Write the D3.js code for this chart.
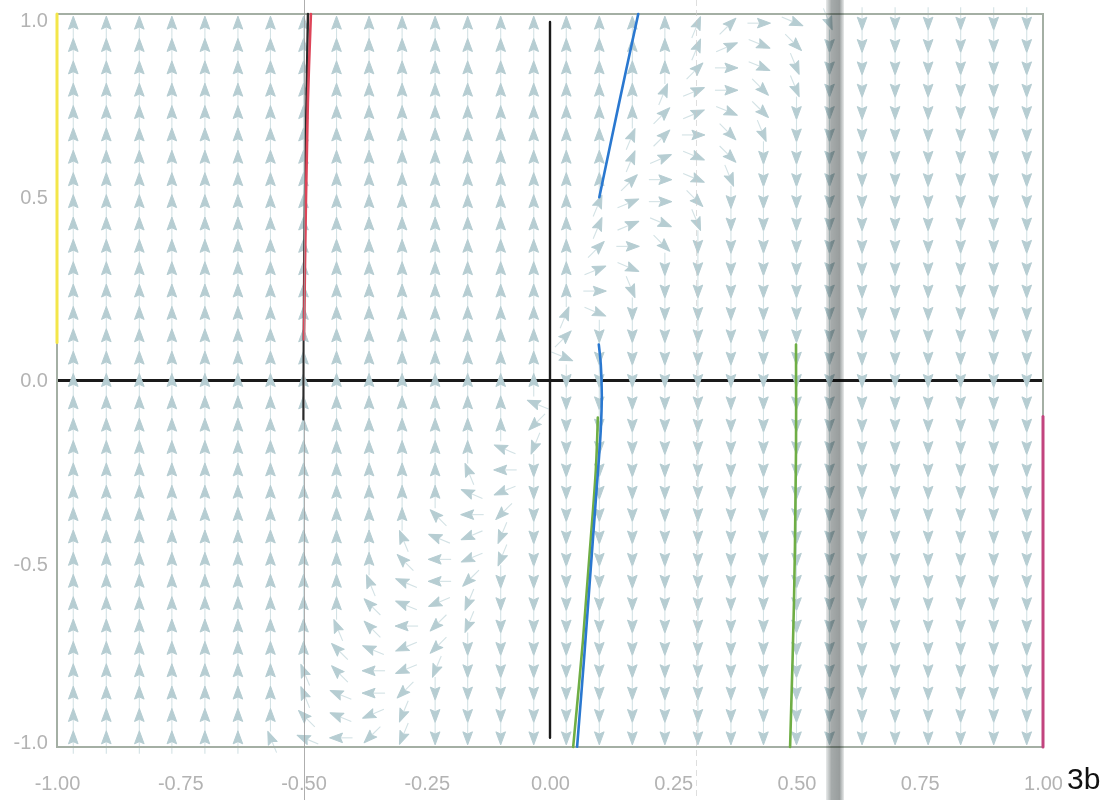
<!DOCTYPE html>
<html><head><meta charset="utf-8">
<script src="https://cdn.jsdelivr.net/npm/d3@7"></script>
<style>body{margin:0;background:#fff;} svg{display:block;}</style>
</head><body>
<svg id="chart" width="1109" height="800"></svg>
<script>
// ---------- data ----------
const xTicks = [-1, -0.75, -0.5, -0.25, 0, 0.25, 0.5, 0.75, 1];
const yTicks = [-1, -0.5, 0, 0.5, 1];
const xCols = [-0.967,-0.9,-0.833,-0.767,-0.7,-0.633,-0.567,-0.5,-0.433,-0.367,-0.3,-0.233,-0.167,-0.1,-0.033,
               0.033,0.1,0.167,0.233,0.3,0.367,0.433,0.5,0.567,0.633,0.7,0.767,0.833,0.9,0.967];
const yRows = [0.975,0.914,0.853,0.792,0.731,0.67,0.609,0.548,0.488,0.427,0.366,0.305,0.244,0.183,0.122,0.061,0,
               -0.061,-0.122,-0.183,-0.244,-0.305,-0.366,-0.427,-0.488,-0.548,-0.609,-0.67,-0.731,-0.792,-0.853,-0.914,-0.975];
// arrow direction per cell, hex digit = multiples of 22.5deg counter-clockwise from east (4 = up, c = down, 0 = right, 8 = left)
const fieldRows = [
 "4444444444 4444444443 20fdcccccc",
 "4444444444 4444444443 1feccccccc",
 "4444444444 4444444442 0fdccccccc",
 "4444444444 4444444431 0edccccccc",
 "4444444444 4444444421 fecccccccc",
 "4444444444 4444444320 edcccccccc",
 "4444444444 444444431f eccccccccc",
 "4444444444 444444420f dccccccccc",
 "4444444444 444444310e cccccccccc",
 "4444444444 44444431fd cccccccccc",
 "4444444444 44444420ec cccccccccc",
 "4444444444 4444441fcc cccccccccc",
 "4444444444 4444440dcc cccccccccc",
 "4444444444 444443fccc cccccccccc",
 "4444444444 444442cccc cccccccccc",
 "4444444444 44444fcccc cccccccccc",
 "4444444444 44444ccccc cccccccccc",
 "4444444444 44447ccccc cccccccccc",
 "4444444444 4444accccc cccccccccc",
 "4444444444 4447bccccc cccccccccc",
 "4444444444 4458cccccc cccccccccc",
 "4444444444 4479cccccc cccccccccc",
 "4444444444 468acccccc cccccccccc",
 "4444444444 579bcccccc cccccccccc",
 "4444444444 689bcccccc cccccccccc",
 "4444444445 78accccccc cccccccccc",
 "4444444446 79bccccccc cccccccccc",
 "4444444456 8abccccccc cccccccccc",
 "4444444467 9acccccccc cccccccccc",
 "4444444568 9bcccccccc cccccccccc",
 "4444444578 accccccccc cccccccccc",
 "4444444679 bccccccccc cccccccccc",
 "444444578a bccccccccc cccccccccc"
];
// solution curves (x, y lists)
const axisHX = [-1, 1],            axisHY = [0, 0];
const axisVX = [0, 0],             axisVY = [-0.975, 0.978];
const yellowX = [-1, -1],          yellowY = [0.104, 1.0];
const magentaX = [1, 1],           magentaY = [-1.0, -0.098];
const blackHalfX = [-0.5, -0.499, -0.497, -0.491], blackHalfY = [-0.106, 0.221, 0.494, 1.0];
const redX = [-0.499, -0.495, -0.491, -0.485],     redY = [0.112, 0.494, 0.767, 1.0];
const blueTopX = [0.1, 0.139, 0.179],              blueTopY = [0.5, 0.75, 1.0];
const blueLowX = [0.099, 0.103, 0.105, 0.103, 0.093, 0.081, 0.069, 0.055];
const blueLowY = [0.098, 0.044, -0.038, -0.134, -0.325, -0.543, -0.761, -0.999];
const green1X = [0.097, 0.093, 0.081, 0.067, 0.047], green1Y = [-0.101, -0.243, -0.461, -0.707, -1.0];
const green2X = [0.499, 0.499, 0.495, 0.487],        green2Y = [0.098, -0.188, -0.598, -1.0];
const cornerLabel = "3b";

// ---------- drawing ----------
const svg = d3.select('#chart');
const x = d3.scaleLinear().domain([-1, 1]).range([57, 1043]);
const y = d3.scaleLinear().domain([-1, 1]).range([747, 14]);
const fontFam = '"Liberation Sans Narrow","Liberation Sans",Arial,sans-serif';

const defs = svg.append('defs');
const grad = defs.append('linearGradient').attr('id', 'band').attr('x1', '0').attr('x2', '1').attr('y1', '0').attr('y2', '0');
grad.append('stop').attr('offset', '0%').attr('stop-color', '#e3e6e6');
grad.append('stop').attr('offset', '30%').attr('stop-color', '#8f9595');
grad.append('stop').attr('offset', '75%').attr('stop-color', '#7f8585');
grad.append('stop').attr('offset', '100%').attr('stop-color', '#e3e6e6');

const line = d3.line().x(d => x(d[0])).y(d => y(d[1])).curve(d3.curveCatmullRom);
const zip = (a, b) => a.map((v, i) => [v, b[i]]);

// horizontal axis line first (arrows sit on top of it)
svg.append('path').attr('d', line(zip(axisHX, axisHY))).attr('fill', 'none')
  .attr('stroke', '#1a1a1a').attr('stroke-width', 2.8);

// arrows
const cells = [];
yRows.forEach((yy, k) => {
  const row = fieldRows[k].replace(/ /g, '');
  xCols.forEach((xx, j) => cells.push({ x: xx, y: yy, a: parseInt(row[j], 16) * 22.5 }));
});
const arr = svg.append('g').selectAll('g').data(cells).join('g')
  .attr('transform', d => `translate(${x(d.x)},${y(d.y)}) rotate(${-d.a})`);
arr.append('line').attr('x1', -16).attr('x2', -4).attr('y1', 0).attr('y2', 0)
  .attr('stroke', '#d3e2e5').attr('stroke-width', 1.1);
arr.append('path').attr('d', 'M7,0 L-6,-4.8 L-3.8,0 L-6,4.8 Z')
  .attr('fill', '#b6cdd2').attr('stroke', '#b6cdd2').attr('stroke-width', 1).attr('stroke-linejoin', 'round');

// frame
svg.append('rect').attr('x', x(-1)).attr('y', y(1)).attr('width', x(1) - x(-1)).attr('height', y(-1) - y(1))
  .attr('fill', 'none').attr('stroke', '#a4afa4').attr('stroke-width', 2);

// curves
const curves = [
  { xs: axisVX, ys: axisVY, c: '#1a1a1a', w: 2.4 },
  { xs: yellowX, ys: yellowY, c: '#f3e64a', w: 3 },
  { xs: magentaX, ys: magentaY, c: '#c2447e', w: 3 },
  { xs: blackHalfX, ys: blackHalfY, c: '#2a2a2a', w: 2.4 },
  { xs: redX, ys: redY, c: '#de4458', w: 2.6 },
  { xs: green1X, ys: green1Y, c: '#6fae45', w: 2.6 },
  { xs: green2X, ys: green2Y, c: '#6fae45', w: 2.6 },
  { xs: blueTopX, ys: blueTopY, c: '#2a78d0', w: 2.6 },
  { xs: blueLowX, ys: blueLowY, c: '#2a78d0', w: 2.6 }
];
svg.append('g').selectAll('path').data(curves).join('path')
  .attr('d', d => line(zip(d.xs, d.ys))).attr('fill', 'none')
  .attr('stroke', d => d.c).attr('stroke-width', d => d.w).attr('stroke-linecap', 'round');

// axes (labels only)
const ax = svg.append('g').attr('transform', `translate(0,${y(-1) + 26})`)
  .call(d3.axisBottom(x).tickValues(xTicks).tickSize(0).tickFormat(d => d.toFixed(2)));
ax.select('.domain').remove();
ax.selectAll('text').attr('fill', '#b3b3b3').style('font-family', fontFam).style('font-size', '20px');

const ay = svg.append('g').attr('transform', `translate(${x(-1) - 6},0)`)
  .call(d3.axisLeft(y).tickValues(yTicks).tickSize(0).tickFormat(d => d.toFixed(1)));
ay.select('.domain').remove();
ay.selectAll('text').attr('fill', '#b3b3b3').style('font-family', fontFam).style('font-size', '20px')
  .attr('dy', d => d === 1 ? '0.62em' : d === -1 ? '0.05em' : '0.32em');

svg.append('text').attr('x', 1067).attr('y', 789).text(cornerLabel)
  .attr('fill', '#111').style('font-family', fontFam).style('font-size', '30px');

// scan artefacts of the original sheet
svg.append('line').attr('x1', 304.5).attr('x2', 304.5).attr('y1', 0).attr('y2', 800)
  .attr('stroke', '#9a9a9a').attr('stroke-width', 1).attr('opacity', 0.8);
svg.append('line').attr('x1', 696.5).attr('x2', 696.5).attr('y1', 0).attr('y2', 800)
  .attr('stroke', '#c9c9c9').attr('stroke-width', 1).attr('stroke-dasharray', '6,4').attr('opacity', 0.6);
svg.append('rect').attr('x', 826).attr('y', 0).attr('width', 18).attr('height', 800)
  .attr('fill', 'url(#band)').attr('opacity', 0.8).style('mix-blend-mode', 'multiply');
</script>
</body></html>
